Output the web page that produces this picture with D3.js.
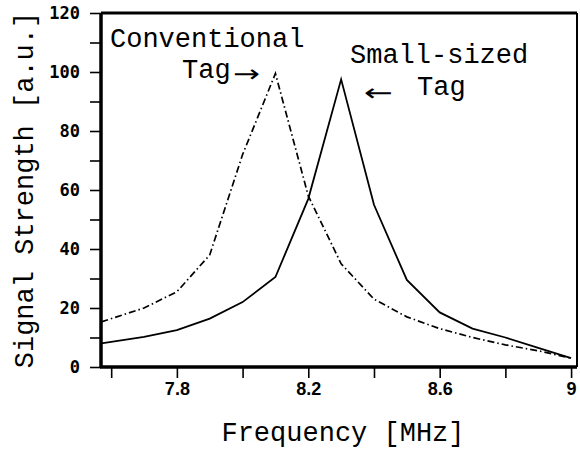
<!DOCTYPE html>
<html>
<head>
<meta charset="utf-8">
<script src="https://cdn.jsdelivr.net/npm/d3@7"></script>
<style>
  body { margin: 0; background: #fff; }
  text { fill: #000; }
</style>
</head>
<body>
<div id="my_dataviz"></div>
<script>
// data
const freq = [7.57, 7.7, 7.8, 7.9, 8.0, 8.1, 8.2, 8.3, 8.4, 8.5, 8.6, 8.7, 8.8, 8.9, 9.0];
const conventional = [15.3, 20, 25.5, 38, 72, 99.5, 58, 35, 23, 17, 13, 10, 7.5, 5.5, 3];
const smallSized = [8, 10.2, 12.5, 16.4, 22, 30.5, 57, 97.5, 55, 29.5, 18.5, 13, 10, 6.5, 3];

// tick labels
const xTicks = [7.6, 7.8, 8.0, 8.2, 8.4, 8.6, 8.8, 9.0];
const xLabels = ["7.8", "8.2", "8.6", "9"];
const yTicks = [0, 10, 20, 30, 40, 50, 60, 70, 80, 90, 100, 110, 120];
const yLabels = ["0", "20", "40", "60", "80", "100", "120"];

function initChart(){

    // frame of the plot area
    const margin = {top: 13, right: 3, bottom: 83, left: 101},
        width = 580 - margin.left - margin.right,
        height = 450 - margin.top - margin.bottom;

    const svg = d3.select("#my_dataviz")
      .append("svg")
        .attr("width", 580)
        .attr("height", 450)
      .append("g")
        .attr("transform", `translate(${margin.left}, ${margin.top})`);

    const x = d3.scaleLinear()
      .domain([7.569, 9.018])
      .range([0, width]);

    const y = d3.scaleLinear()
      .domain([0, 120])
      .range([height, 0]);

    // X axis
    const fmtX = d => {
      const s = d3.format("~g")(d);
      return xLabels.includes(s) ? s : "";
    };
    const gx = svg.append("g")
      .attr("transform", `translate(0, ${height})`)
      .call(d3.axisBottom(x).tickValues(xTicks).tickSize(11).tickPadding(4).tickFormat(fmtX));
    gx.select(".domain").remove();
    gx.selectAll(".tick line").attr("stroke", "#000").attr("stroke-width", 1.6);
    gx.selectAll("text")
      .style("font-family", "'Liberation Sans', Arial, sans-serif")
      .style("font-weight", "bold")
      .style("font-size", "18px");

    // Y axis
    const fmtY = d => yLabels.includes(String(d)) ? String(d) : "";
    const gy = svg.append("g")
      .call(d3.axisLeft(y).tickValues(yTicks).tickSize(11).tickPadding(10).tickFormat(fmtY));
    gy.select(".domain").remove();
    gy.selectAll(".tick line").attr("stroke", "#000").attr("stroke-width", 1.6);
    gy.selectAll("text")
      .style("font-family", "'DejaVu Sans Mono', monospace")
      .style("font-weight", "bold")
      .style("font-size", "17px");

    // frame
    svg.append("line").attr("x1", 0).attr("x2", 0).attr("y1", 0).attr("y2", height)
      .attr("stroke", "#000").attr("stroke-width", 3.5);
    svg.append("line").attr("x1", -1).attr("x2", width).attr("y1", height).attr("y2", height)
      .attr("stroke", "#000").attr("stroke-width", 3.5);
    svg.append("line").attr("x1", 0).attr("x2", width).attr("y1", 0).attr("y2", 0)
      .attr("stroke", "#000").attr("stroke-width", 3);
    svg.append("line").attr("x1", width).attr("x2", width).attr("y1", 0).attr("y2", height)
      .attr("stroke", "#000").attr("stroke-width", 2);

    // curves
    const line = d3.line()
      .x((d, i) => x(freq[i]))
      .y(d => y(d));

    svg.append("path")
      .datum(conventional)
      .attr("fill", "none")
      .attr("stroke", "#000")
      .attr("stroke-width", 1.7)
      .attr("stroke-dasharray", "7,3,1.5,3")
      .attr("d", line);

    svg.append("path")
      .datum(smallSized)
      .attr("fill", "none")
      .attr("stroke", "#000")
      .attr("stroke-width", 1.8)
      .attr("d", line);

    // annotations
    const ann = d3.select("svg").append("g")
      .style("font-family", "'Liberation Mono', 'DejaVu Sans Mono', monospace")
      .style("font-size", "27px");

    ann.append("text").attr("x", 110).attr("y", 47).text("Conventional");
    ann.append("text").attr("x", 182).attr("y", 78).text("Tag");
    ann.append("text").attr("x", 233).attr("y", 82)
      .attr("textLength", 27).attr("lengthAdjust", "spacingAndGlyphs")
      .style("font-family", "'DejaVu Sans', sans-serif")
      .style("font-size", "24px")
      .text("→");

    ann.append("text").attr("x", 350).attr("y", 63).text("Small-sized");
    ann.append("text").attr("x", 417).attr("y", 95).text("Tag");
    ann.append("text").attr("x", 364).attr("y", 101)
      .attr("textLength", 29).attr("lengthAdjust", "spacingAndGlyphs")
      .style("font-family", "'DejaVu Sans', sans-serif")
      .style("font-size", "24px")
      .text("←");

    // axis titles
    ann.append("text")
      .attr("text-anchor", "middle")
      .attr("transform", "translate(33, 190) rotate(-90)")
      .text("Signal Strength [a.u.]");

    ann.append("text")
      .attr("text-anchor", "middle")
      .attr("x", 343)
      .attr("y", 441)
      .text("Frequency [MHz]");

    return svg;
}

document.addEventListener("DOMContentLoaded", () => initChart());
</script>
</body>
</html>
